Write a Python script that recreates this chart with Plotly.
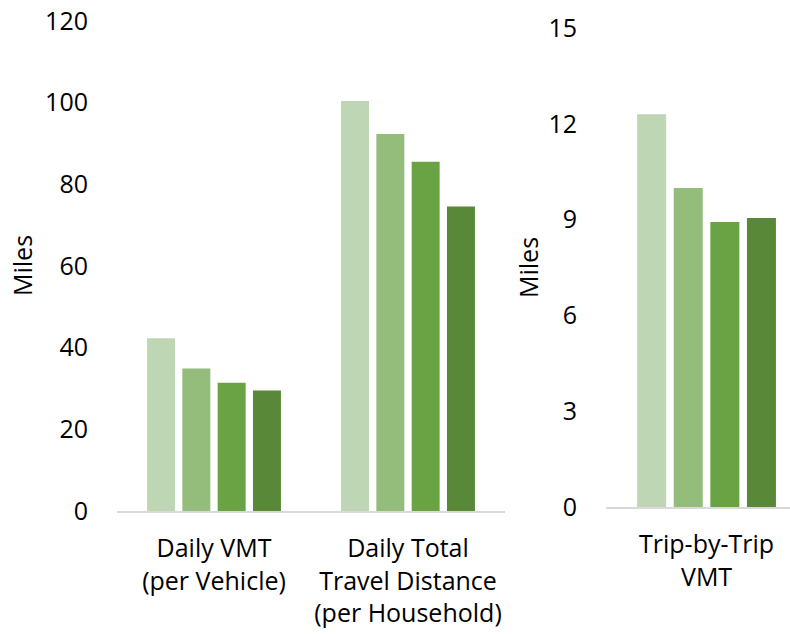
from plotly import graph_objects as go

left_categories = ["Daily VMT<br>(per Vehicle)", "Daily Total<br>Travel Distance<br>(per Household)"]
right_categories = ["Trip-by-Trip<br>VMT"]
series_names = ["Series 1", "Series 2", "Series 3", "Series 4"]
left_values = [
    [42.3, 100.4],
    [34.9, 92.3],
    [31.4, 85.5],
    [29.5, 74.6],
]
right_values = [12.3, 9.99, 8.93, 9.05]
colors = ["#BFD6B4", "#94BC7B", "#6AA344", "#588838"]

left_ticks = [0, 20, 40, 60, 80, 100, 120]
right_ticks = [0, 3, 6, 9, 12, 15]

FONT = "Open Sans"
AXIS_GREY = "#D9D9D9"

W, H = 790, 636


def fx(px):
    """Window pixel x -> paper fraction."""
    return px / W


def fy(px):
    """Window pixel y (from top) -> paper fraction (from bottom)."""
    return 1 - px / H


fig = go.Figure()
for name, vals, color in zip(series_names, left_values, colors):
    fig.add_trace(go.Bar(x=left_categories, y=vals, name=name,
                         marker=dict(color=color, line=dict(width=0)),
                         xaxis="x", yaxis="y"))
for name, val, color in zip(series_names, right_values, colors):
    fig.add_trace(go.Bar(x=right_categories, y=[val], name=name,
                         marker=dict(color=color, line=dict(width=0)),
                         xaxis="x2", yaxis="y2", showlegend=False))

tick_font = dict(family=FONT, size=25, color="#000000")
y_common = dict(showgrid=False, zeroline=False, showline=False, automargin=False,
                ticks="outside", ticklen=23, tickcolor="rgba(0,0,0,0)",
                ticklabeloverflow="allow",
                tickfont=tick_font, fixedrange=True)
x_common = dict(showgrid=False, zeroline=False, showline=True, automargin=False,
                linecolor=AXIS_GREY, linewidth=2,
                ticks="outside", ticklen=14, tickcolor="rgba(0,0,0,0)",
                ticklabeloverflow="allow",
                tickfont=tick_font, type="category", fixedrange=True)

fig.update_layout(
    width=W,
    height=H,
    margin=dict(l=0, r=0, t=0, b=0, pad=0, autoexpand=False),
    paper_bgcolor="white",
    plot_bgcolor="white",
    showlegend=False,
    barmode="group",
    bargap=0.272,
    bargroupgap=0.208,
    xaxis=dict(domain=[fx(117), fx(505)], anchor="y", **x_common),
    yaxis=dict(domain=[fy(511), fy(21)], anchor="x", range=[0, 120],
               tickvals=left_ticks, **y_common),
    xaxis2=dict(domain=[fx(606), 1.0], anchor="y2", range=[-0.5, 0.415], **x_common),
    yaxis2=dict(domain=[fy(507.3), fy(28)], anchor="x2", range=[0, 15],
                tickvals=right_ticks, **y_common),
    annotations=[
        dict(text="Miles", x=fx(4), y=fy(266), xref="paper", yref="paper",
             textangle=-90, showarrow=False, font=tick_font,
             xanchor="left", yanchor="middle", borderpad=0),
        dict(text="Miles", x=fx(528), y=fy(268), xref="paper", yref="paper",
             textangle=-90, showarrow=False, font=tick_font,
             xanchor="center", yanchor="middle"),
    ],
)

# drop the default 8px body margin so the figure fills the window exactly
fig.write_html("out.html", config={"displayModeBar": False},
               post_script="document.body.style.margin = '0';")
